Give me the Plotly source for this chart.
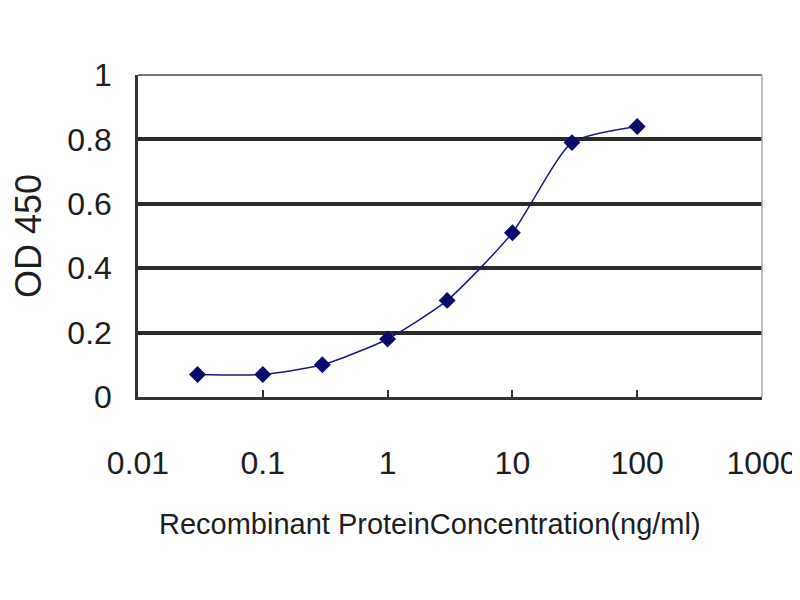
import plotly.graph_objects as go

conc = [0.03, 0.1, 0.3, 1, 3, 10, 30, 100]
od = [0.07, 0.07, 0.10, 0.18, 0.30, 0.51, 0.79, 0.84]
x_ticks = [0.01, 0.1, 1, 10, 100, 1000]
x_tick_text = ["0.01", "0.1", "1", "10", "100", "1000"]
y_ticks = [0, 0.2, 0.4, 0.6, 0.8, 1]
y_tick_text = ["0", "0.2", "0.4", "0.6", "0.8", "1"]
x_title = "Recombinant ProteinConcentration(ng/ml)"
y_title = "OD 450"

fig = go.Figure()
fig.add_trace(go.Scatter(
    x=conc, y=od, mode="lines+markers",
    line=dict(color="#1a1a80", width=1.5, shape="spline", smoothing=0.6),
    marker=dict(symbol="diamond", size=13, color="#0a0a6e"),
    showlegend=False,
))

font = "Liberation Sans, Arial, sans-serif"
txt = "#1e1e1e"
fig.update_layout(
    width=800, height=600,
    margin=dict(l=130, r=46, t=67, b=211, autoexpand=False),
    paper_bgcolor="white", plot_bgcolor="white",
    font=dict(family=font, color=txt),
    xaxis=dict(
        type="log", range=[-2, 3],
        tickvals=x_ticks, ticktext=x_tick_text,
        tickfont=dict(size=32, color=txt),
        ticks="inside", ticklen=7, tickcolor="#333", tickwidth=1.5,
        showgrid=False, zeroline=False,
        showline=True, linecolor="#333", linewidth=2.5, mirror=False,
        ticklabelstandoff=36, automargin=False,
    ),
    yaxis=dict(
        range=[0, 1],
        tickvals=y_ticks, ticktext=y_tick_text,
        tickfont=dict(size=32, color=txt),
        ticks="", showgrid=True, gridcolor="#2a2a2a", gridwidth=3.5,
        zeroline=False,
        showline=True, linecolor="#333", linewidth=2.5, mirror=False,
        ticklabelstandoff=17, automargin=False,
        title=dict(text=y_title, font=dict(size=36, color=txt), standoff=30),
    ),
    annotations=[
        dict(text=x_title, xref="paper", yref="paper", x=0.468, y=-0.393,
             xanchor="center", yanchor="middle", showarrow=False,
             font=dict(size=29, color=txt)),
    ],
    shapes=[
        dict(type="line", xref="x domain", yref="y domain", x0=0, x1=1, y0=1, y1=1,
             line=dict(color="#777", width=2)),
        dict(type="line", xref="x domain", yref="y domain", x0=1, x1=1, y0=0, y1=1,
             line=dict(color="#aaa", width=1.5)),
    ],
)
fig.write_html("out.html")
